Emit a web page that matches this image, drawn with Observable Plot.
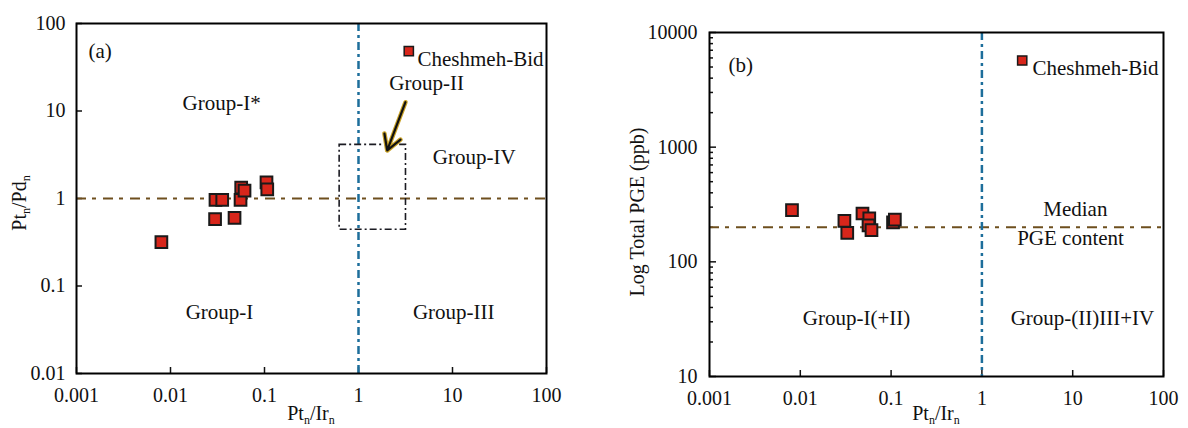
<!DOCTYPE html>
<html>
<head>
<meta charset="utf-8">
<script src="https://cdn.jsdelivr.net/npm/d3@7"></script>
<script src="https://cdn.jsdelivr.net/npm/@observablehq/plot@0.6"></script>
<style>
  html, body { margin: 0; padding: 0; background: #fff; }
  #wrap { display: flex; width: 1188px; height: 428px; overflow: hidden; }
</style>
</head>
<body>
<div id="wrap"></div>
<script>
// ---- Data -------------------------------------------------------------
// Panel (a): Pt_n/Ir_n vs Pt_n/Pd_n for the Cheshmeh-Bid samples
const ptIrA = [0.0080, 0.0301, 0.0355, 0.0298, 0.048, 0.0556, 0.0565, 0.0613, 0.105, 0.107];
const ptPdA = [0.317, 0.966, 0.966, 0.58, 0.60, 0.966, 1.33, 1.23, 1.53, 1.27];

// Panel (b): Pt_n/Ir_n vs total PGE (ppb)
const ptIrB = [0.0081, 0.0306, 0.0329, 0.0484, 0.0575, 0.0564, 0.0608, 0.105, 0.110];
const pgeB  = [283, 228, 179, 264, 240, 208, 189, 221, 233];

// Reference lines and field boundaries
const ptPdDivide = [1];        // horizontal divide, panel (a)
const ptIrDivide = [1];        // vertical divide, both panels
const medianPGE = [200];       // median PGE content, panel (b)
const groupIIPtIr = [0.63, 3.2];   // Group-II box, x extent
const groupIIPtPd = [0.44, 4.1];   // Group-II box, y extent
const arrowFrom = [3.16, 12.6];    // Group-II pointer (Pt/Ir, Pt/Pd)
const arrowTo = [2.02, 3.54];

// Field labels (positioned in data units)
const fieldNamesA = ["Group-I*", "Group-II", "Group-IV", "Group-I", "Group-III"];
const fieldPtIrA  = [0.035, 5.3, 17, 0.0332, 10.3];
const fieldPtPdA  = [12.2, 20.8, 2.96, 0.05, 0.05];

const fieldNamesB = ["Median", "PGE content", "Group-I(+II)", "Group-(II)III+IV"];
const fieldPtIrB  = [10.7, 9.46, 0.0416, 12.8];
const fieldPGEB   = [286, 160, 32, 32];

// Axis ticks
const xTicks = [0.001, 0.01, 0.1, 1, 10, 100];
const yTicksA = [0.01, 0.1, 1, 10, 100];
const yTicksB = [10, 100, 1000, 10000];
const yMinorB = [20, 30, 40, 50, 60, 70, 80, 90, 200, 300, 400, 500, 600, 700, 800, 900,
                 2000, 3000, 4000, 5000, 6000, 7000, 8000, 9000];

const legendName = ["Cheshmeh-Bid"];

// ---- Styles -------------------------------------------------------------
const font = "'Liberation Serif', 'Times New Roman', serif";
const markerFill = "#d8261b";
const markerStroke = "#1a1a1a";
const brownLine = "#6e4f1e";
const blueLine = "#1d6e9b";
const W = 594, H = 428;
const labelSize = 21;
const fmt = d => String(d);

const samplesA = ptIrA.map((x, i) => ({x, y: ptPdA[i]}));
const samplesB = ptIrB.map((x, i) => ({x, y: pgeB[i]}));
const fieldsA = fieldNamesA.map((t, i) => ({t, x: fieldPtIrA[i], y: fieldPtPdA[i]}));
const fieldsB = fieldNamesB.map((t, i) => ({t, x: fieldPtIrB[i], y: fieldPGEB[i]}));

// Axis title with subscripts, appended after Plot renders (svg-local coordinates)
function axisTitle(svg, parts, x, y, angle) {
  const t = d3.select(svg).append("text")
    .attr("transform", `translate(${x},${y}) rotate(${angle})`)
    .attr("text-anchor", "middle")
    .attr("font-family", font)
    .attr("font-size", 20)
    .attr("fill", "#111");
  let shifted = false;
  for (const [base, sub] of parts) {
    t.append("tspan").attr("dy", shifted ? -4 : 0).text(base);
    shifted = false;
    if (sub) {
      t.append("tspan").attr("font-size", 12).attr("dy", 4).text(sub);
      shifted = true;
    }
  }
}

// ---- Panel (a) ----------------------------------------------------------
const mA = {left: 76, right: 48, top: 23, bottom: 55};
const chartA = Plot.plot({
  width: W, height: H,
  marginLeft: mA.left, marginRight: mA.right, marginTop: mA.top, marginBottom: mA.bottom,
  style: {fontFamily: font, fontSize: "20px", background: "white", color: "#111", overflow: "visible"},
  x: {type: "log", domain: [0.001, 100]},
  y: {type: "log", domain: [0.01, 100]},
  marks: [
    Plot.axisX(xTicks, {tickSize: -6, tickPadding: 20, tickFormat: fmt, label: null, strokeWidth: 1.5}),
    Plot.axisY(yTicksA, {tickSize: -6, tickPadding: 17, tickFormat: fmt, label: null, strokeWidth: 1.5}),
    Plot.ruleY(ptPdDivide, {stroke: brownLine, strokeWidth: 2, strokeDasharray: "10,6,4,7"}),
    Plot.ruleX(ptIrDivide, {stroke: blueLine, strokeWidth: 2.5, strokeDasharray: "8,4,3,4"}),
    Plot.rect([0], {x1: () => groupIIPtIr[0], x2: () => groupIIPtIr[1], y1: () => groupIIPtPd[0], y2: () => groupIIPtPd[1],
      fill: "none", stroke: "#1b1b22", strokeWidth: 1.6, strokeDasharray: "7,3,2,3"}),
    Plot.arrow([0], {x1: () => arrowFrom[0], y1: () => arrowFrom[1], x2: () => arrowTo[0], y2: () => arrowTo[1],
      stroke: "#c9a227", strokeWidth: 4.5, headLength: 12}),
    Plot.arrow([0], {x1: () => arrowFrom[0], y1: () => arrowFrom[1], x2: () => arrowTo[0], y2: () => arrowTo[1],
      stroke: "#111", strokeWidth: 2.2, headLength: 12}),
    Plot.text(fieldsA, {x: "x", y: "y", text: "t", fontSize: labelSize, fill: "#111"}),
    Plot.text(["(a)"], {frameAnchor: "top-left", textAnchor: "start", dx: 12, dy: 20, fontSize: labelSize, fill: "#111"}),
    Plot.dot(samplesA, {x: "x", y: "y", symbol: "square", r: 6.6, fill: markerFill, stroke: markerStroke, strokeWidth: 2}),
    Plot.dot([0], {frameAnchor: "top-right", dx: -137.7, dy: 27.7, symbol: "square", r: 5.2,
      fill: markerFill, stroke: markerStroke, strokeWidth: 1.5}),
    Plot.text(legendName, {frameAnchor: "top-right", textAnchor: "end", dx: -3, dy: 27.7, fontSize: labelSize, fill: "#111"}),
    Plot.frame({stroke: "black", strokeWidth: 2})
  ]
});
axisTitle(chartA, [["Pt", "n"], ["/Ir", "n"]], mA.left + (W - mA.left - mA.right) / 2, 420, 0);
axisTitle(chartA, [["Pt", "n"], ["/Pd", "n"]], 26, mA.top + (H - mA.top - mA.bottom) / 2 + 5, -90);

// ---- Panel (b) ----------------------------------------------------------
const mB = {left: 115, right: 25, top: 32, bottom: 52};
const chartB = Plot.plot({
  width: W, height: H,
  marginLeft: mB.left, marginRight: mB.right, marginTop: mB.top, marginBottom: mB.bottom,
  style: {fontFamily: font, fontSize: "20px", background: "white", color: "#111", overflow: "visible"},
  x: {type: "log", domain: [0.001, 100]},
  y: {type: "log", domain: [10, 10000]},
  marks: [
    Plot.axisX(xTicks, {tickSize: -6, tickPadding: 20, tickFormat: fmt, label: null, strokeWidth: 1.5}),
    Plot.axisY(yTicksB, {tickSize: -7, tickPadding: 19, tickFormat: fmt, label: null, strokeWidth: 1.5}),
    Plot.axisY(yMinorB, {tickSize: -4, tickFormat: () => "", label: null, strokeWidth: 1.5}),
    Plot.ruleY(medianPGE, {stroke: brownLine, strokeWidth: 2, strokeDasharray: "10,6,4,7"}),
    Plot.ruleX(ptIrDivide, {stroke: blueLine, strokeWidth: 2.5, strokeDasharray: "8,4,3,4"}),
    Plot.text(fieldsB, {x: "x", y: "y", text: "t", fontSize: labelSize, fill: "#111"}),
    Plot.text(["(b)"], {frameAnchor: "top-left", textAnchor: "start", dx: 19, dy: 25, fontSize: labelSize, fill: "#111"}),
    Plot.dot(samplesB, {x: "x", y: "y", symbol: "square", r: 6.6, fill: markerFill, stroke: markerStroke, strokeWidth: 2}),
    Plot.dot([0], {frameAnchor: "top-right", dx: -141.3, dy: 28, symbol: "square", r: 5.2,
      fill: markerFill, stroke: markerStroke, strokeWidth: 1.5}),
    Plot.text(legendName, {frameAnchor: "top-right", textAnchor: "end", dx: -5, dy: 28, fontSize: labelSize, fill: "#111"}),
    Plot.frame({stroke: "black", strokeWidth: 2})
  ]
});
axisTitle(chartB, [["Pt", "n"], ["/Ir", "n"]], mB.left + (W - mB.left - mB.right) / 2, 420, 0);
axisTitle(chartB, [["Log Total PGE (ppb)", null]], 50, 212, -90);

document.getElementById("wrap").append(chartA, chartB);
</script>
</body>
</html>
